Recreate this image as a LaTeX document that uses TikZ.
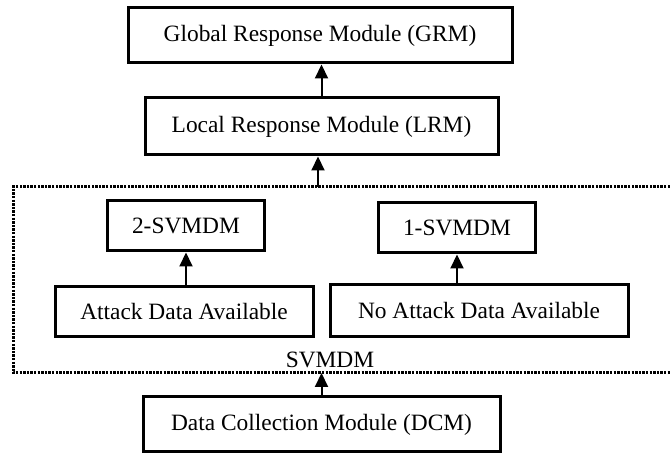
\documentclass[tikz,border=0pt]{standalone}
\usepackage{fontspec}
\setmainfont{Liberation Serif}
\usetikzlibrary{arrows.meta}

\begin{document}
\begin{tikzpicture}[x=0.5pt, y=-0.5pt,
    box/.style={draw, line width=1.5pt, inner sep=0pt, font=\fontsize{11.7}{14}\selectfont},
    up/.style={-{Triangle[width=6.5pt,length=7pt]}, line width=1pt},
    frame/.style={line width=1.5pt, dash pattern=on 1.2pt off 0.6pt}]
  \useasboundingbox (0,0) rectangle (670,453);
  % Response modules
  \node[box, minimum width=192pt, minimum height=27.5pt] (grm) at (320,35.5) {Global Response Module (GRM)};
  \node[box, minimum width=176.5pt, minimum height=28.5pt] (lrm) at (321.5,126.5) {Local Response Module (LRM)};

  % SVM detection modules
  \node[box, minimum width=78.5pt, minimum height=25pt] (svm2) at (186,226) {2-SVMDM};
  \node[box, minimum width=78.5pt, minimum height=25pt] (svm1) at (457,228) {1-SVMDM};
  \node[box, minimum width=129pt, minimum height=25pt] (attack) at (184,312) {Attack Data Available};
  \node[box, minimum width=149pt, minimum height=26pt] (noattack) at (479,311) {No Attack Data Available};
  \node[font=\fontsize{11.7}{14}\selectfont, inner sep=0pt] (svlabel) at (330,360) {SVMDM};

  % Data collection
  \node[box, minimum width=178.5pt, minimum height=27.5pt] (dcm) at (321.5,424.5) {Data Collection Module (DCM)};

  % Dotted frame, open on the right
  \coordinate (ftr) at (670,187);
  \coordinate (ftl) at (13,187);
  \coordinate (fbl) at (13,373);
  \coordinate (fbr) at (670,373);
  \draw[frame] (ftr) -- (ftl) -- (fbl) -- (fbr);
  \coordinate (svtop) at (318,187);
  \coordinate (svbot) at (322,373);

  \draw[up] (lrm.north) -- (lrm.north |- grm.south);
  \draw[up] (svtop) -- (svtop |- lrm.south);
  \draw[up] (svm2.south |- attack.north) -- (svm2.south);
  \draw[up] (svm1.south |- noattack.north) -- (svm1.south);
  \draw[up] (dcm.north) -- (dcm.north |- svbot);
\end{tikzpicture}
\end{document}
